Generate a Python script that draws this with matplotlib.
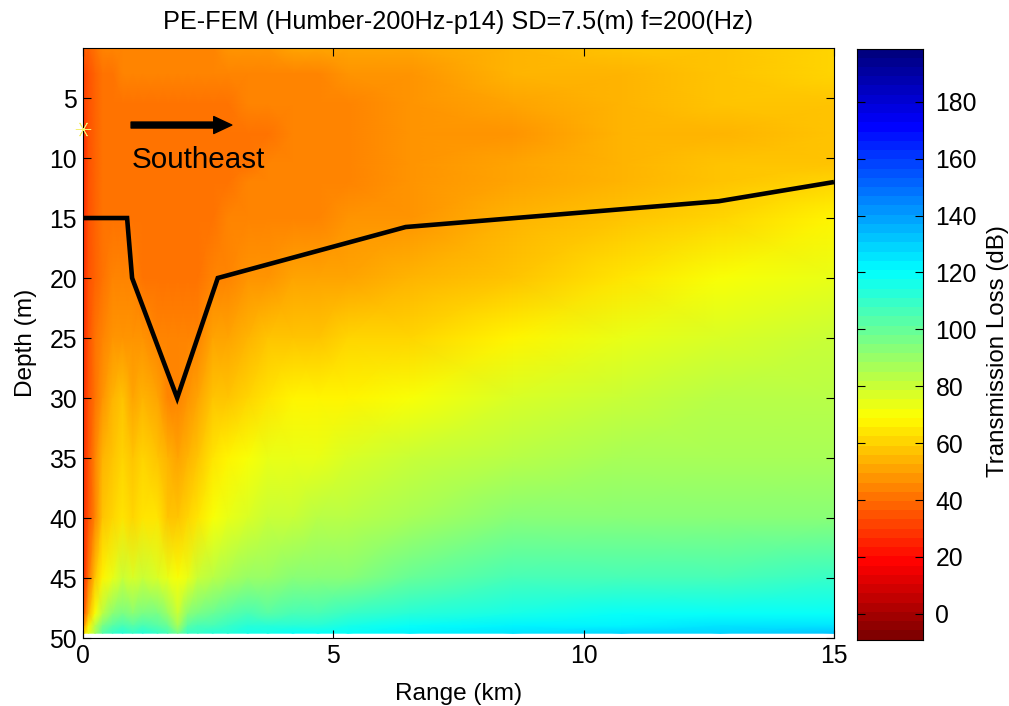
import numpy as np
import matplotlib
matplotlib.use("Agg")
import matplotlib.pyplot as plt
from matplotlib.colors import LinearSegmentedColormap
from matplotlib.ticker import FixedLocator

plt.rcParams['font.family'] = ['Liberation Sans', 'DejaVu Sans']

depth_m = [0.83, 3, 5.5, 8, 10.5, 12, 15, 20, 25, 30, 35, 40, 45, 48, 49, 49.6]
range_km = [0, 0.04, 0.12, 0.25, 0.4, 0.6, 0.8, 1.0, 1.2, 1.5, 1.7, 1.9, 2.1, 2.3, 2.6, 2.9,
            3.3, 3.7, 4.2, 4.7, 5.3, 6.53, 8.59, 10.76, 12.73, 15]
tl_by_range = [
    [36, 30, 27, 26, 26, 26, 25, 24, 23, 23, 23, 23, 25, 32, 46, 60],
    [37, 32, 30, 29, 29, 29, 28, 27, 27, 27, 27, 27, 29, 38, 52, 64],
    [39, 36, 35, 35, 35, 35, 35, 35, 34, 34, 34, 35, 42, 54, 66, 74],
    [41, 39, 38, 38, 38, 38, 38, 39, 40, 42, 44, 46, 56, 72, 82, 88],
    [43, 41, 40, 40, 40, 40, 40, 42, 45, 49, 53, 56, 68, 84, 96, 102],
    [44, 42, 41, 41, 41, 41, 41, 43, 48, 54, 58, 61, 74, 92, 104, 110],
    [45, 43, 42, 42, 42, 42, 42, 44, 49, 56, 60, 64, 80, 97, 106, 112],
    [45, 43, 42, 42, 42, 42, 42, 43, 47, 52, 56, 61, 76, 94, 104, 110],
    [46, 43, 42, 42, 42, 42, 42, 42, 48, 55, 60, 65, 80, 98, 107, 112],
    [46, 44, 42.5, 42, 42, 42, 42, 42, 43, 52, 57, 63, 78, 95, 104, 110],
    [46, 44, 42.5, 42, 42, 42, 42, 42, 43, 46, 53, 59, 74, 90, 100, 107],
    [46, 44, 42.5, 42, 42, 42, 42, 42, 43, 46, 51, 57, 72, 80, 88, 95],
    [46, 44, 42.5, 42, 42, 42, 42, 42, 43, 48, 54, 61, 75, 92, 102, 108],
    [46, 44, 42.5, 42, 42, 42, 42, 42, 45, 51, 58, 64, 80, 98, 106, 111],
    [46, 44, 42.5, 42, 42, 42, 42, 43, 50, 56, 63, 69, 82, 99, 107, 112],
    [47, 44, 42.7, 42, 42, 42, 43, 46, 51, 58, 67, 73, 86, 102, 110, 114],
    [48, 45, 43, 42.5, 42.5, 43, 44, 48, 54, 62, 72, 78, 90, 105, 112, 116],
    [48, 45.5, 43.3, 42.7, 43, 43.5, 44.5, 49, 56, 63, 73, 79, 89, 104, 112, 117],
    [50, 46, 44, 43, 43.5, 44, 45, 50, 58, 66, 75, 81, 92, 107, 114, 118],
    [50, 46, 44.5, 44, 44.3, 44.8, 45.5, 51, 59, 67, 75, 82, 92, 107, 114, 119],
    [51, 47, 45.2, 44.6, 45, 45.7, 46.5, 52, 60, 68, 77, 83, 94, 109, 115, 120],
    [52, 49, 46.9, 46.2, 46.8, 47.5, 49, 54, 62, 71, 81, 88, 100, 113, 119, 122],
    [54, 52.7, 50.2, 49.4, 50, 50.6, 52.7, 58, 68, 77, 85, 92, 105, 117, 122, 125],
    [56, 55.9, 53.5, 52.7, 53.3, 54, 56, 65, 74, 81, 86, 93, 106, 118, 123, 128],
    [59, 58, 56.6, 55.9, 56.4, 57, 62, 70, 78, 83, 87, 94, 107, 119, 125, 130],
    [62, 60.5, 59, 58.5, 59, 60, 66, 73, 80, 84, 88, 94, 108, 120, 126, 132],
]
bath_range = [0, 0.89, 0.99, 1.89, 2.7, 6.45, 12.7, 15]
bath_depth = [15, 15, 20, 30, 20, 15.75, 13.6, 12]
source_range = [0]
source_depth = [7.6]
depth_ticks = [5, 10, 15, 20, 25, 30, 35, 40, 45, 50]
range_ticks = [0, 5, 10, 15]
cbar_ticks = [0, 20, 40, 60, 80, 100, 120, 140, 160, 180]
clim = (-9, 198.7)

# MATLAB-style jet, flipped so that low loss is red
jet_stops = [(0.0, '#800000'), (0.125, '#ff0000'), (0.375, '#ffff00'), (0.625, '#00ffff'),
             (0.875, '#0000ff'), (1.0, '#000080')]
cmap = LinearSegmentedColormap.from_list('matlab_jet_r', jet_stops, N=64)

W, H = 1009, 706
fig = plt.figure(figsize=(W / 100, H / 100), dpi=100, facecolor='white')
ax = fig.add_axes([82.5 / W, 1 - 638 / H, (834 - 82.5) / W, (638 - 48) / H])
cax = fig.add_axes([857 / W, 1 - 639.5 / H, (923 - 857) / W, (639.5 - 48.5) / H])

Z = np.array(tl_by_range).T
ax.pcolormesh(range_km, depth_m, Z, shading='gouraud', cmap=cmap, vmin=clim[0], vmax=clim[1])
ax.set_xlim(0, 15)
ax.set_ylim(50, 0.83)

ax.plot(bath_range, bath_depth, color='black', lw=3.3, solid_joinstyle='miter', solid_capstyle='butt')
ax.plot(source_range, source_depth, linestyle='none', marker=(6, 2, 90), ms=11, mew=0.6, color='#f4ee70', clip_on=False, zorder=5)
ax.annotate('', xy=(2.98, 7.25), xytext=(0.97, 7.25),
            arrowprops=dict(width=4.3, headwidth=12.2, headlength=13, color='black', shrink=0))
ax.text(0.98, 10.85, 'Southeast', fontsize=21.3, ha='left', va='baseline', color='black')

ax.set_xticks(range_ticks)
ax.set_yticks(depth_ticks)
ax.tick_params(direction='in', length=6, width=0.8, top=True, right=True, labelsize=17.8, pad=4)
ax.set_xlabel('Range (km)', fontsize=17.6, labelpad=11)
ax.set_ylabel('Depth (m)', fontsize=17.6, labelpad=9)
ax.set_title('PE-FEM (Humber-200Hz-p14) SD=7.5(m) f=200(Hz)', fontsize=18.2, pad=14)

grad = np.linspace(clim[0], clim[1], 65)
cax.pcolormesh([0, 1], grad, np.array(grad[:-1] + np.diff(grad) / 2).reshape(-1, 1), cmap=cmap, vmin=clim[0], vmax=clim[1])
cax.set_xticks([])
cax.set_ylim(clim)
cax.yaxis.set_major_locator(FixedLocator(cbar_ticks))
cax.tick_params(axis='y', direction='in', length=6, width=0.8, left=True, right=True, labelleft=False, labelright=True, labelsize=17.8, pad=9)
cax.yaxis.set_label_position('right')
cax.set_ylabel('Transmission Loss (dB)', fontsize=17.4, labelpad=7.5, y=0.488)

fig.savefig('out.png', dpi=100)
